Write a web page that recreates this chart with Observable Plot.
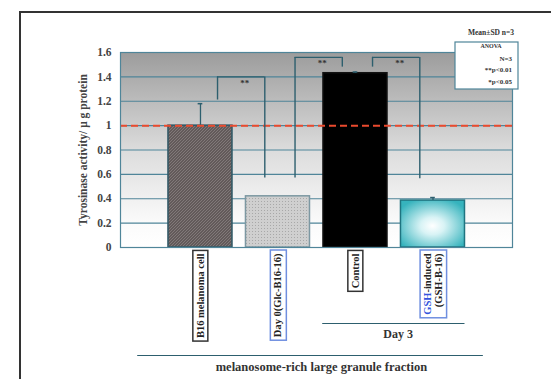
<!DOCTYPE html>
<html><head><meta charset="utf-8">
<script src="https://cdn.jsdelivr.net/npm/d3@7"></script>
<script src="https://cdn.jsdelivr.net/npm/@observablehq/plot@0.6"></script>
<style>
html,body{margin:0;padding:0;background:#fff;}
#wrap{position:relative;width:551px;height:379px;overflow:hidden;background:#fff;}
#border{position:absolute;left:19px;top:11px;width:700px;height:600px;border-left:2px solid #333;border-top:2px solid #333;}
#chart{position:absolute;left:0;top:0;}
</style></head><body>
<div id="wrap"><div id="border"></div><div id="chart"></div></div>
<script>
// ---- data ----
const categories = ["B16 melanoma cell", "Day 0(Glc-B16-16)", "Control", "GSH-induced\n(GSH-B-16)"];
const means = [1.0, 0.42, 1.43, 0.385];
const sds = [0.18, 0, 0.01, 0.025];
const yTicks = [0, 0.2, 0.4, 0.6, 0.8, 1, 1.2, 1.4, 1.6];
const yTickLabels = ["0", "0.2", "0.4", "0.6", "0.8", "1", "1.2", "1.4", "1.6"];
const referenceLevel = 1.0;
const yLabel = "Tyrosinase activity/ \u03bc g protein";
// significance brackets (bar index pairs and leg heights)
const bracketFrom = [0, 1, 2];
const bracketTo = [1, 2, 3];
const bracketLeftBottom = [1.21, 0.57, 1.48];
const bracketRightBottom = [0.57, 1.48, 0.565];
const bracketTop = [1.40, 1.56, 1.56];
const bracketLabels = ["**", "**", "**"];
const groupLabel = "Day 3";
const fractionLabel = "melanosome-rich large granule fraction";
const legendTitle = "Mean\u00b1SD n=3";
const legendLines = ["ANOVA", "N=3", "**p<0.01", "*p<0.05"];

// ---- styles ----
const fills = ["url(#hatch)", "url(#dots)", "#000000", "url(#cyanGlow)"];
const strokes = ["#2f5866", "#7d98a2", "#111111", "#1f7480"];
const labelBoxColors = ["#333333", "#6f8fe0", "#333333", "#6f8fe0"];
const gridColor = "#4f8599";
const lineColor = "#2d5f6e";
const halfBar = 0.413;

const bars = categories.map((c, i) => ({i, label: c, mean: means[i], sd: sds[i]}));
const brackets = bracketFrom.map((f, k) => ({
  xl: f + 0.22, xr: bracketTo[k] - 0.17,
  lb: bracketLeftBottom[k], rb: bracketRightBottom[k], top: bracketTop[k],
  text: bracketLabels[k], xm: (f + bracketTo[k]) / 2 + 0.07
}));

const chart = Plot.plot({
  width: 551, height: 379,
  marginTop: 52, marginBottom: 132, marginLeft: 120, marginRight: 39,
  style: {fontFamily: "'Liberation Serif', serif", fontWeight: "bold", fontSize: "11px", color: "#333", background: "transparent"},
  x: {domain: [-1.032, 4.026], axis: null},
  y: {domain: [0, 1.6]},
  marks: [
    Plot.frame({fill: "url(#bgGrad)"}),
    Plot.gridY(yTicks, {stroke: gridColor, strokeOpacity: 1, strokeWidth: 1.2}),
    Plot.axisY({ticks: yTicks, tickFormat: d => yTickLabels[yTicks.indexOf(d)], tickSize: 0, tickPadding: 9,
      fontSize: 11.5, fill: "#444", label: null}),
    Plot.text([yLabel], {frameAnchor: "left", textAnchor: "middle", rotate: -90, dx: -37, fontSize: 11.5, fill: "#444"}),
    Plot.rectY(bars, {x1: d => d.i - halfBar, x2: d => d.i + halfBar, y1: 0, y2: "mean",
      fill: d => fills[d.i], stroke: d => strokes[d.i], strokeWidth: 1.5}),
    Plot.ruleX(bars.filter(d => d.sd > 0), {x: "i", y1: "mean", y2: d => d.mean + d.sd, stroke: lineColor, strokeWidth: 1.3}),
    Plot.ruleY(bars.filter(d => d.sd > 0), {y: d => d.mean + d.sd, x1: d => d.i - 0.03, x2: d => d.i + 0.03, stroke: lineColor, strokeWidth: 1.5}),
    Plot.ruleY([referenceLevel], {stroke: "#ea4a2e", strokeWidth: 2, strokeDasharray: "7,4"}),
    Plot.frame({stroke: gridColor, strokeWidth: 1.2}),
    Plot.ruleX(brackets, {x: "xl", y1: "lb", y2: "top", stroke: lineColor, strokeWidth: 1.4}),
    Plot.ruleX(brackets, {x: "xr", y1: "rb", y2: "top", stroke: lineColor, strokeWidth: 1.4}),
    Plot.ruleY(brackets, {y: "top", x1: "xl", x2: "xr", stroke: lineColor, strokeWidth: 1.4}),
    Plot.text(brackets, {x: "xm", y: "top", text: "text", dy: 6, fontSize: 9, fill: "#333"}),
    Plot.text(bars, {x: "i", y: 0, text: "label", rotate: -90, textAnchor: "end", dy: 6,
      fontSize: 10.5, fill: "#222"}),
    Plot.ruleY([0], {x1: 2 - halfBar - 0.01, x2: 3 + halfBar, dy: 76, stroke: lineColor, strokeWidth: 1.2}),
    Plot.text([groupLabel], {x: 2.55, y: 0, dy: 87, fontSize: 12, fill: "#333"}),
    Plot.ruleY([0], {x1: -0.81, x2: 3.65, dy: 108, stroke: lineColor, strokeWidth: 1.2}),
    Plot.text([fractionLabel], {x: 1.56, y: 0, dy: 119, fontSize: 12.5, fill: "#333"})
  ]
});
document.getElementById("chart").appendChild(chart);

const svg = d3.select(chart);
const defs = svg.insert("defs", ":first-child");
const bg = defs.append("linearGradient").attr("id", "bgGrad").attr("x1", 0).attr("y1", 0).attr("x2", 0).attr("y2", 1);
bg.append("stop").attr("offset", "0%").attr("stop-color", "#9c9c9c");
bg.append("stop").attr("offset", "50%").attr("stop-color", "#dcdcdc");
bg.append("stop").attr("offset", "88%").attr("stop-color", "#fbfbfb");
bg.append("stop").attr("offset", "100%").attr("stop-color", "#ffffff");
const hatch = defs.append("pattern").attr("id", "hatch").attr("patternUnits", "userSpaceOnUse").attr("width", 3).attr("height", 3);
hatch.append("rect").attr("width", 3).attr("height", 3).attr("fill", "#625a5a");
hatch.append("path").attr("d", "M0,3 L3,0 M-1,1 L1,-1 M2,4 L4,2").attr("stroke", "#8e8686").attr("stroke-width", 0.7);
const dots = defs.append("pattern").attr("id", "dots").attr("patternUnits", "userSpaceOnUse").attr("width", 3).attr("height", 3);
dots.append("rect").attr("width", 3).attr("height", 3).attr("fill", "#cfcfcf");
dots.append("rect").attr("width", 1).attr("height", 1).attr("fill", "#a8a8a8");
const glow = defs.append("radialGradient").attr("id", "cyanGlow").attr("cx", "50%").attr("cy", "55%").attr("r", "62%");
glow.append("stop").attr("offset", "0%").attr("stop-color", "#ffffff");
glow.append("stop").attr("offset", "30%").attr("stop-color", "#d8f3f5");
glow.append("stop").attr("offset", "100%").attr("stop-color", "#36b3bd");

// boxes round the category labels
const flatCats = categories.map(c => c.replace(/\n/g, ""));
svg.selectAll("text").each(function() {
  const idx = flatCats.indexOf(this.textContent.trim());
  if (idx < 0) return;
  const t = d3.select(this);
  const b = this.getBBox();
  const pad = 3;
  d3.select(this.parentNode).insert("rect", () => this)
    .attr("transform", t.attr("transform"))
    .attr("x", b.x - pad).attr("y", b.y - pad + 1)
    .attr("width", b.width + 2 * pad).attr("height", b.height + 2 * pad - 2)
    .attr("fill", "#fff").attr("stroke", labelBoxColors[idx]).attr("stroke-width", 1.5);
  if (idx === 3) {
    const first = t.select("tspan");
    if (!first.empty()) {
      first.text(null);
      first.append("tspan").attr("fill", "#3355dd").text("GSH");
      first.append("tspan").text("-induced");
    }
  }
});

// legend
const lg = svg.append("g").attr("font-family", "'Liberation Serif', serif").attr("font-weight", "bold").attr("fill", "#333");
lg.append("text").attr("x", 491).attr("y", 35).attr("text-anchor", "middle").attr("font-size", 7.5).text(legendTitle);
lg.append("rect").attr("x", 455).attr("y", 42).attr("width", 63).attr("height", 47).attr("fill", "#fff").attr("stroke", gridColor).attr("stroke-width", 1.2);
lg.append("text").attr("x", 491).attr("y", 48).attr("text-anchor", "middle").attr("font-size", 6).text(legendLines[0]);
lg.append("text").attr("x", 512).attr("y", 61).attr("text-anchor", "end").attr("font-size", 7).text(legendLines[1]);
lg.append("text").attr("x", 512).attr("y", 72).attr("text-anchor", "end").attr("font-size", 7).text(legendLines[2]);
lg.append("text").attr("x", 512).attr("y", 84).attr("text-anchor", "end").attr("font-size", 7).text(legendLines[3]);
</script>
</body></html>
